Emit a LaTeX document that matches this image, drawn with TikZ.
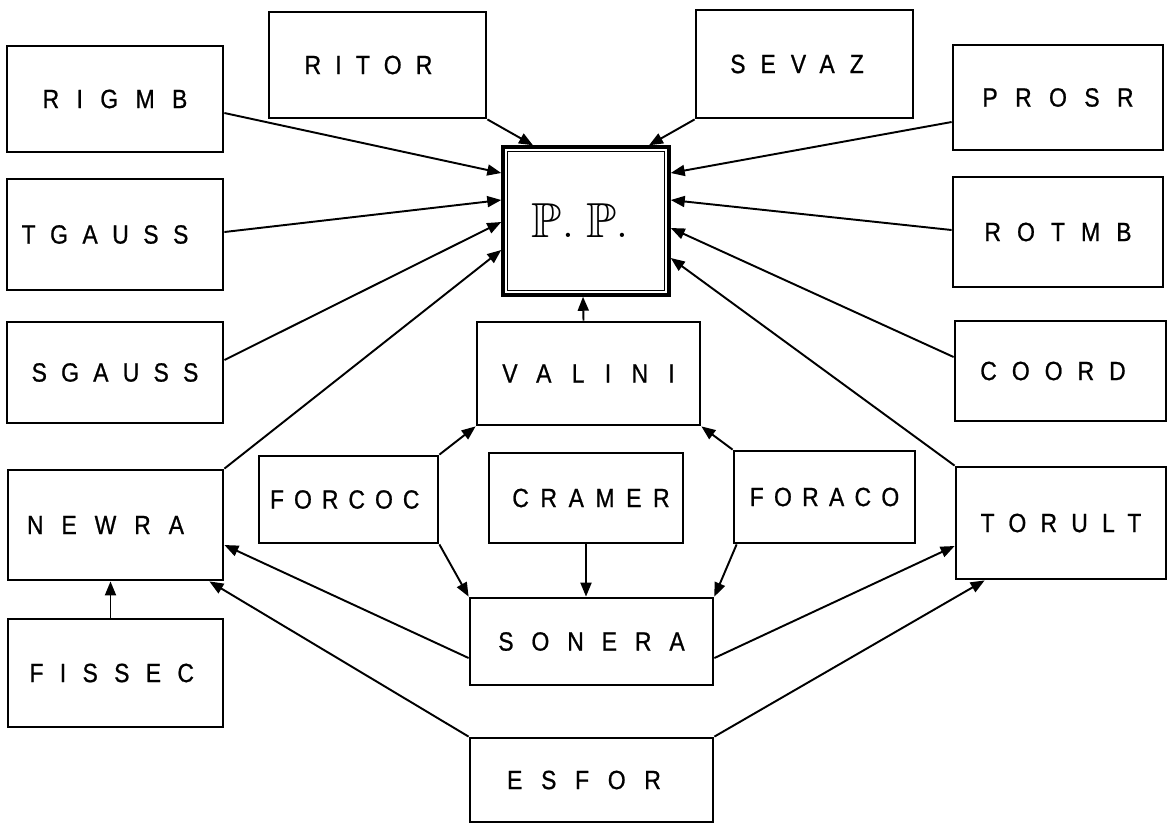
\documentclass[tikz,border=0pt]{standalone}
\usepackage{amssymb}
\usepackage{fontspec}
\usepackage{tikz}
\usetikzlibrary{arrows.meta,calc}
\newfontfamily\boxfont[FakeStretch=0.87,FakeBold=0.8]{Liberation Sans}
\newcommand\spaced[2]{{\addfontfeatures{LetterSpace=#1}#2}}

\begin{document}
\begin{tikzpicture}[
 x=0.02cm, y=-0.02cm,
 font=\boxfont\fontsize{15}{18}\selectfont,
 box/.style={draw,line width=1.6pt,inner sep=0pt,align=center},
 arr/.style={-{Triangle[length=2.8mm,width=2.2mm]},line width=1.1pt}
]
\useasboundingbox (0,0) rectangle (1173,823);
% left column
\node[box,minimum width=4.32cm,minimum height=2.12cm] (rigmb) at (115,99) {\spaced{66}{RIGMB}};
\node[box,minimum width=4.32cm,minimum height=2.22cm] (tgauss) at (115,234.5) {\spaced{55}{TGAUSS}\hspace{0.4cm}};
\node[box,minimum width=4.32cm,minimum height=2.02cm] (sgauss) at (115,372.5) {\spaced{54}{SGAUSS}};
\node[box,minimum width=4.30cm,minimum height=2.20cm] (newra) at (115.5,525) {\spaced{68}{NEWRA}\hspace{0.4cm}};
\node[box,minimum width=4.30cm,minimum height=2.16cm] (fissec) at (115.5,673) {\spaced{62}{FISSEC}\hspace{0.15cm}};
% top row
\node[box,minimum width=4.34cm,minimum height=2.12cm] (ritor) at (377.5,65) {\spaced{54}{RITOR}\hspace{0.36cm}};
\node[box,minimum width=4.34cm,minimum height=2.16cm] (sevaz) at (804.5,64) {\spaced{57}{SEVAZ}\hspace{0.3cm}};
% right column
\node[box,minimum width=4.20cm,minimum height=2.10cm] (prosr) at (1058,97.5) {\spaced{66}{PROSR}};
\node[box,minimum width=4.20cm,minimum height=2.20cm] (rotmb) at (1058,232) {\spaced{61}{ROTMB}};
\node[box,minimum width=4.22cm,minimum height=2.00cm] (coord) at (1060.5,371) {\spaced{57}{COORD}\hspace{0.3cm}};
\node[box,minimum width=4.20cm,minimum height=2.24cm] (torult) at (1061,523) {\spaced{54}{TORULT}};
% middle
\node[box,line width=2pt,minimum width=3.32cm,minimum height=2.96cm] (pp) at (586,221) {};
\draw[line width=0.8pt] ($(pp.north west)+(6,6)$) rectangle ($(pp.south east)+(-6,-6)$);
\node[font=\fontsize{28}{30}\selectfont] (pptext) at ($(pp.center)+(-6,0)$) {$\mathbb{P}.\;\mathbb{P}.$};
\node[box,minimum width=4.46cm,minimum height=2.06cm] (valini) at (588.5,373.5) {\spaced{77}{VALINI}};
\node[box,minimum width=3.58cm,minimum height=1.74cm] (forcoc) at (348.5,499.5) {\spaced{38}{FORCOC}\hspace{0.15cm}};
\node[box,minimum width=3.88cm,minimum height=1.80cm] (cramer) at (586,498) {\hspace{0.2cm}\spaced{44}{CRAMER}};
\node[box,minimum width=3.62cm,minimum height=1.84cm] (foraco) at (824.5,497) {\spaced{39}{FORACO}};
\node[box,minimum width=4.86cm,minimum height=1.74cm] (sonera) at (591.5,641.5) {\spaced{68}{SONERA}};
\node[box,minimum width=4.86cm,minimum height=1.68cm] (esfor) at (591.5,780) {\spaced{71}{ESFOR}\hspace{0.3cm}};

% into P.P.
\draw[arr] ($(rigmb.east)+(0,14)$) -- ($(pp.west)+(0,-48)$);
\draw[arr] ($(tgauss.east)+(0,-2.5)$) -- ($(pp.west)+(0,-21)$);
\draw[arr] ($(sgauss.east)+(0,-12.5)$) -- ($(pp.west)+(0,1)$);
\draw[arr] (newra.north east) -- ($(pp.west)+(0,29)$);
\draw[arr] (ritor.south east) -- ($(pp.north)+(-53,0)$);
\draw[arr] (sevaz.south west) -- ($(pp.north)+(63,0)$);
\draw[arr] ($(prosr.west)+(0,24.5)$) -- ($(pp.east)+(0,-48)$);
\draw[arr] ($(rotmb.west)+(0,-2)$) -- ($(pp.east)+(0,-21)$);
\draw[arr] ($(coord.west)+(0,-14)$) -- ($(pp.east)+(0,7)$);
\draw[arr] (torult.north west) -- ($(pp.east)+(0,37)$);
\draw[arr] ($(valini.north)+(-5,0)$) -- ($(pp.south)+(-3,0)$);
% around VALINI and SONERA
\draw[arr] (forcoc.north east) -- (valini.south west);
\draw[arr] (foraco.north west) -- (valini.south east);
\draw[arr] (forcoc.south east) -- (sonera.north west);
\draw[arr] (cramer.south) -- (cramer.south |- sonera.north);
\draw[arr] ($(foraco.south west)+(4,0)$) -- (sonera.north east);
\draw[arr] ($(sonera.west)+(0,16.5)$) -- ($(newra.east)+(0,20)$);
\draw[arr] (esfor.north west) -- ($(newra.south east)+(-15,0)$);
\draw[arr] ($(fissec.north)+(-5,0)$) -- ($(newra.south)+(-5,0)$);
\draw[arr] ($(sonera.east)+(0,16.5)$) -- ($(torult.west)+(0,23)$);
\draw[arr] (esfor.north east) -- ($(torult.south west)+(30,0)$);
\end{tikzpicture}
\end{document}
